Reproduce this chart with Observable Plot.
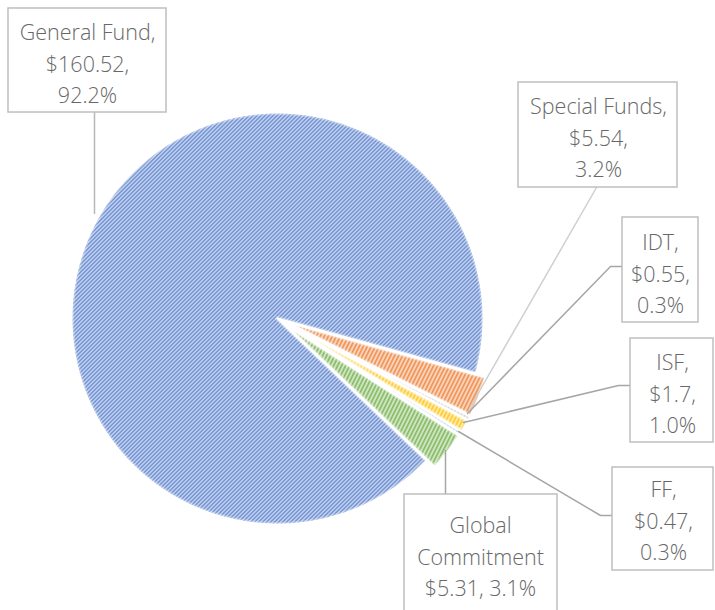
<!DOCTYPE html>
<html><head><meta charset="utf-8">
<script src="https://cdn.jsdelivr.net/npm/d3@7"></script>
<script src="https://cdn.jsdelivr.net/npm/@observablehq/plot@0.6"></script>
<style>body{margin:0;background:#fff}</style>
</head><body><div id="chart"></div>
<script>
// ---- data ----
const categories = ["General Fund", "Special Funds", "IDT", "ISF", "FF", "Global Commitment"];
const values = [160.52, 5.54, 0.55, 1.7, 0.47, 5.31];
const percents = ["92.2%", "3.2%", "0.3%", "1.0%", "0.3%", "3.1%"];

// ---- styles ----
const patternStyles = [
  {bg: "#D3DEF3", mid: "#87A2DA", fg: "#3D69BF", steep: false},
  {bg: "#FBDCC8", mid: "#F4AA78", fg: "#EA7428", steep: true},
  {bg: "#E8E8E8", mid: "#C6C6C6", fg: "#A5A5A5", steep: true},
  {bg: "#FFEDB0", mid: "#FFD658", fg: "#FFBC00", steep: true},
  {bg: "#D9E7F5", mid: "#9AC1E5", fg: "#5B9BD5", steep: true},
  {bg: "#D8EACD", mid: "#A0CA86", fg: "#68A83E", steep: true}
];

// ---- layout ----
const pie = {cx: 277, cy: 318, r: 206, explode: [0, 10, 10, 10, 10, 10], firstEndDeg: 105.5};
const boxes = [
  {x1: 8, x2: 166, y1: 8, y2: 112, tx: 87, ty: 61},
  {x1: 518, x2: 677, y1: 82, y2: 187, tx: 598, ty: 135},
  {x1: 622, x2: 698, y1: 217, y2: 322, tx: 660, ty: 271},
  {x1: 630, x2: 713, y1: 338, y2: 442, tx: 672, ty: 391},
  {x1: 612, x2: 713, y1: 467, y2: 570, tx: 663, ty: 518},
  {x1: 404, x2: 557, y1: 494, y2: 640, tx: 480, ty: 554}
];
const leaders = [
  {pts: [[94, 112], [94, 213]], color: "#B8B8B8"},
  {pts: [[596, 187], [469, 408]], color: "#CFCFCF"},
  {pts: [[622, 266], [610, 266], [467, 413]], color: "#A6A6A6"},
  {pts: [[630, 385], [618, 385], [463, 422]], color: "#A6A6A6"},
  {pts: [[612, 515], [600, 515], [458, 431]], color: "#A6A6A6"},
  {pts: [[445, 494], [445, 450]], color: "#A6A6A6"}
];

// ---- build ----
const total = d3.sum(values);
const deg = Math.PI / 180;
const start = (pie.firstEndDeg - 360 * values[0] / total) * deg;
const arcs = d3.pie().sort(null).startAngle(start).endAngle(start + 2 * Math.PI)(values);

const sliceRows = arcs.map((a, i) => {
  const mid = (a.startAngle + a.endAngle) / 2;
  const e = pie.explode[i];
  const ox = pie.cx + e * Math.sin(mid), oy = pie.cy - e * Math.cos(mid);
  const rows = [{slice: i, x: ox, y: oy}];
  const n = Math.max(2, Math.ceil((a.endAngle - a.startAngle) / (0.5 * deg)));
  for (let k = 0; k <= n; k++) {
    const t = a.startAngle + (a.endAngle - a.startAngle) * k / n;
    rows.push({slice: i, x: ox + pie.r * Math.sin(t), y: oy - pie.r * Math.cos(t)});
  }
  return rows;
});
const allSliceRows = sliceRows.flat();

function labelText(i) {
  const name = categories[i];
  const val = "$" + values[i];
  if (name.length > 14 && name.includes(" ")) {
    return name.split(" ").join("\n") + "\n" + val + ", " + percents[i];
  }
  return name + ",\n" + val + ",\n" + percents[i];
}
const labels = boxes.map((b, i) => ({...b, text: labelText(i)}));
const leaderRows = leaders.flatMap((l, i) => l.pts.map(([x, y]) => ({id: i, x, y, color: l.color})));

const svg = Plot.plot({
  width: 715, height: 610,
  margin: 0,
  x: {domain: [0, 715], range: [0, 715], axis: null},
  y: {domain: [0, 610], range: [0, 610], axis: null},
  color: {type: "identity"},
  style: {fontFamily: "'Open Sans', sans-serif", background: "white"},
  marks: [
    ...sliceRows.map((rows, i) => Plot.line(rows, {x: "x", y: "y", curve: "linear-closed", fill: `url(#pat${i})`, stroke: "none"})),
    Plot.line(allSliceRows, {x: "x", y: "y", z: "slice", curve: "linear-closed", stroke: "white", strokeOpacity: 0.3, strokeWidth: 5}),
    Plot.line(allSliceRows, {x: "x", y: "y", z: "slice", curve: "linear-closed", stroke: "white", strokeWidth: 2}),
    Plot.line(leaderRows, {x: "x", y: "y", z: "id", stroke: "color", strokeWidth: 1.5}),
    Plot.rect(labels, {x1: "x1", x2: "x2", y1: "y1", y2: "y2", fill: "white", stroke: "#BFBFBF", strokeWidth: 1.5}),
    Plot.text(labels, {x: "tx", y: "ty", text: "text", fontSize: 21.5, lineHeight: 1.47, fill: "#686868", fontWeight: 300, textAnchor: "middle"})
  ]
});

// pixel hatch patterns ("/" diagonals, 4px period)
const defs = d3.select(svg).insert("defs", ":first-child");
patternStyles.forEach((p, i) => {
  const h = p.steep ? 8 : 4;
  const pat = defs.append("pattern")
    .attr("id", `pat${i}`)
    .attr("patternUnits", "userSpaceOnUse")
    .attr("width", 4).attr("height", h);
  pat.append("rect").attr("width", 4).attr("height", h).attr("fill", p.bg);
  for (let yy = 0; yy < h; yy++) {
    const xx = p.steep ? 3 - Math.floor(yy / 2) : 3 - yy;
    pat.append("rect").attr("x", xx).attr("y", yy).attr("width", 1).attr("height", 1)
      .attr("fill", p.fg).attr("shape-rendering", "crispEdges");
    pat.append("rect").attr("x", (xx + 3) % 4).attr("y", yy).attr("width", 1).attr("height", 1)
      .attr("fill", p.mid).attr("shape-rendering", "crispEdges");
  }
});

document.getElementById("chart").appendChild(svg);
</script>
</body></html>
